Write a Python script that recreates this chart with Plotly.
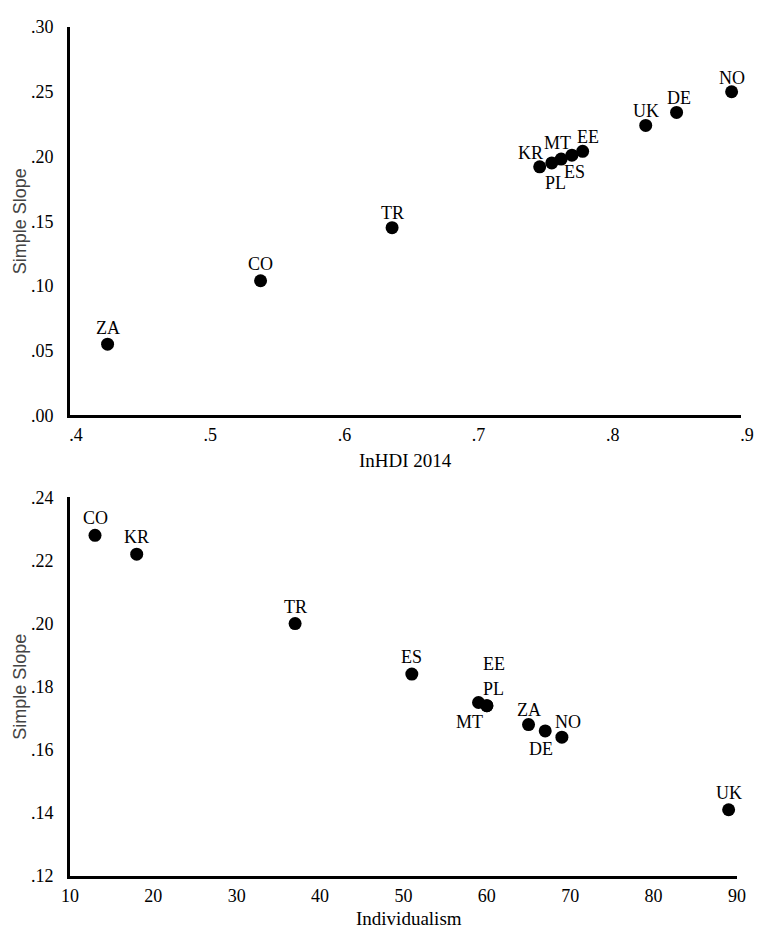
import plotly.graph_objects as go

# ---- Data: top panel (inequality-adjusted HDI 2014 vs simple slope)
hdi_countries = ["ZA", "CO", "TR", "KR", "PL", "MT", "ES", "EE", "UK", "DE", "NO"]
hdi_values = [0.428, 0.542, 0.640, 0.750, 0.759, 0.766, 0.774, 0.782, 0.829, 0.852, 0.893]
hdi_slopes = [0.055, 0.104, 0.145, 0.192, 0.195, 0.198, 0.201, 0.204, 0.224, 0.234, 0.250]

# ---- Data: bottom panel (Individualism vs simple slope)
ind_countries = ["CO", "KR", "TR", "ES", "MT", "PL", "EE", "ZA", "DE", "NO", "UK"]
ind_values = [13, 18, 37, 51, 59, 60, 60, 65, 67, 69, 89]
ind_slopes = [0.228, 0.222, 0.200, 0.184, 0.175, 0.174, 0.174, 0.168, 0.166, 0.164, 0.141]

# tick labels
top_xticks = [0.4, 0.5, 0.6, 0.7, 0.8, 0.9]
top_xticktext = [".4", ".5", ".6", ".7", ".8", ".9"]
top_yticks = [0.0, 0.05, 0.10, 0.15, 0.20, 0.25, 0.30]
top_yticktext = [".00", ".05", ".10", ".15", ".20", ".25", ".30"]
bot_xticks = [10, 20, 30, 40, 50, 60, 70, 80, 90]
bot_xticktext = ["10", "20", "30", "40", "50", "60", "70", "80", "90"]
bot_yticks = [0.12, 0.14, 0.16, 0.18, 0.20, 0.22, 0.24]
bot_yticktext = [".12", ".14", ".16", ".18", ".20", ".22", ".24"]

# label offsets (pixels) for point labels
top_label_dx = {"KR": -9, "MT": -4, "EE": 5, "ES": 3, "PL": 4, "DE": 2}
top_label_dy = {"ZA": -16, "CO": -17, "TR": -15, "NO": -14, "DE": -14, "UK": -14,
                "KR": -14, "MT": -16, "EE": -14, "ES": 17, "PL": 20}
bot_label_dx = {"EE": 7, "PL": 7, "MT": -9, "NO": 6, "DE": -4}
bot_label_dy = {"CO": -17, "KR": -17, "TR": -17, "ES": -17, "EE": -42, "PL": -17,
                "MT": 20, "ZA": -15, "NO": -15, "DE": 18, "UK": -17}

SERIF = "Liberation Serif, Times New Roman, serif"
SANS = "Liberation Sans, Arial, sans-serif"
FS = 18

fig = go.Figure()
fig.add_trace(go.Scatter(x=hdi_values, y=hdi_slopes, mode="markers",
                         marker=dict(size=13, color="black"),
                         xaxis="x", yaxis="y", showlegend=False, cliponaxis=False))
fig.add_trace(go.Scatter(x=ind_values, y=ind_slopes, mode="markers",
                         marker=dict(size=13, color="black"),
                         xaxis="x2", yaxis="y2", showlegend=False, cliponaxis=False))

annotations = []
for c, xv, yv in zip(hdi_countries, hdi_values, hdi_slopes):
    annotations.append(dict(x=xv, y=yv, xref="x", yref="y", text=c, showarrow=False,
                            xanchor="center", yanchor="middle",
                            xshift=top_label_dx.get(c, 0), yshift=-top_label_dy.get(c, -15),
                            font=dict(family=SERIF, size=FS, color="black")))
for c, xv, yv in zip(ind_countries, ind_values, ind_slopes):
    annotations.append(dict(x=xv, y=yv, xref="x2", yref="y2", text=c, showarrow=False,
                            xanchor="center", yanchor="middle",
                            xshift=bot_label_dx.get(c, 0), yshift=-bot_label_dy.get(c, -15),
                            font=dict(family=SERIF, size=FS, color="black")))

# axis titles
annotations += [
    dict(text="Simple Slope", xref="x domain", yref="y domain", x=0, y=0.5,
         xanchor="center", yanchor="middle",
         xshift=-50, textangle=-90, showarrow=False,
         font=dict(family=SANS, size=FS, color="#444444")),
    dict(text="Simple Slope", xref="x2 domain", yref="y2 domain", x=0, y=0.5,
         xanchor="center", yanchor="middle",
         xshift=-50, textangle=-90, showarrow=False,
         font=dict(family=SANS, size=FS, color="#444444")),
    dict(text="InHDI 2014", xref="x domain", yref="y domain", x=0.5, y=0,
         xanchor="center", yanchor="middle",
         yshift=-45, showarrow=False, font=dict(family=SERIF, size=19, color="black")),
    dict(text="Individualism", xref="x2 domain", yref="y2 domain", x=0.5, y=0,
         xanchor="center", yanchor="middle",
         xshift=6, yshift=-42, showarrow=False, font=dict(family=SERIF, size=19, color="black")),
]

axis_common = dict(showline=True, linewidth=3, linecolor="black", showgrid=False,
                   zeroline=False, ticks="", tickfont=dict(family=SERIF, size=FS, color="black"),
                   tickmode="array", fixedrange=True)

fig.update_layout(
    width=755, height=921,
    margin=dict(l=62, r=16, t=9, b=53),
    paper_bgcolor="white", plot_bgcolor="white",
    xaxis=dict(axis_common, domain=[0, 1], anchor="y", range=[0.4, 0.9],
               tickvals=top_xticks, ticktext=top_xticktext, ticklabelshift=6,
               ticklabelstandoff=1),
    yaxis=dict(axis_common, domain=[0.5425, 1], anchor="x", range=[0.0, 0.30],
               tickvals=top_yticks, ticktext=top_yticktext, ticklabelstandoff=10),
    xaxis2=dict(axis_common, domain=[0, 0.994], anchor="y2", range=[10, 90],
                tickvals=bot_xticks, ticktext=bot_xticktext, ticklabelstandoff=1),
    yaxis2=dict(axis_common, domain=[0, 0.4459], anchor="x2", range=[0.12, 0.24],
                tickvals=bot_yticks, ticktext=bot_yticktext, ticklabelstandoff=10),
    annotations=annotations,
)

fig.write_html("out.html")
